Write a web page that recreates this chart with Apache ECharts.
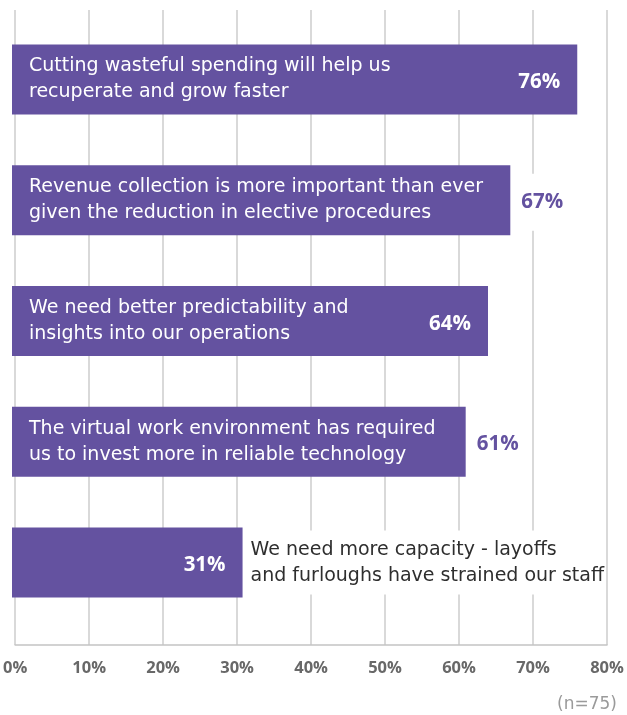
<!DOCTYPE html>
<html>
<head>
<meta charset="utf-8">
<script src="https://cdn.jsdelivr.net/npm/echarts@6/dist/echarts.min.js"></script>
<style>
  html, body { margin: 0; padding: 0; background: #fff; }
  #chart { width: 627px; height: 715px; }
</style>
</head>
<body>
<div id="chart"></div>
<script>
// Survey statements (top to bottom) and the share of respondents agreeing
const statements = [
  'Cutting wasteful spending will help us\nrecuperate and grow faster',
  'Revenue collection is more important than ever\ngiven the reduction in elective procedures',
  'We need better predictability and\ninsights into our operations',
  'The virtual work environment has required\nus to invest more in reliable technology',
  'We need more capacity - layoffs\nand furloughs have strained our staff'
];
const shares = [76, 67, 64, 61, 31];
const sampleNote = '(n=75)';
const axisMax = 80;
const axisStep = 10;

// Label placement: statement text inside the bar, value label inside the bar end
const statementInside = [true, true, true, true, false];
const valueInside = [true, false, true, false, true];

const PURPLE = '#6452a0';
const TEXT_FONT = '"DejaVu Sans", "Open Sans", sans-serif';
const NUM_FONT = '"Open Sans", Lato, sans-serif';

const chart = echarts.init(document.getElementById('chart'), null, { renderer: 'canvas' });

const statementData = shares.map((v, i) => ({
  value: v,
  label: statementInside[i]
    ? { position: 'insideLeft', distance: 17, color: '#ffffff' }
    : { position: 'right', distance: 5, color: '#2e2e2e', backgroundColor: '#ffffff', padding: [6, 0, 6, 3] }
}));

const valueData = shares.map((v, i) => ({
  value: v,
  label: valueInside[i]
    ? { position: 'insideRight', distance: 17, color: '#ffffff', offset: [0, 3] }
    : { position: 'right', distance: 5, color: PURPLE, backgroundColor: '#ffffff', padding: [18, 6], offset: [0, 2] }
}));

chart.setOption({
  animation: false,
  backgroundColor: '#ffffff',
  title: {
    text: sampleNote,
    right: 5,
    top: 691,
    textStyle: { fontFamily: TEXT_FONT, fontSize: 17, fontWeight: 'normal', color: '#9a9a9a' }
  },
  grid: [
    { left: 12, right: 20, top: 10, bottom: 70 },
    { left: 12, right: 20, top: 19, bottom: 92 }
  ],
  xAxis: [
    {
      gridIndex: 0, type: 'value', min: 0, max: axisMax, interval: axisStep,
      axisLine: { show: true, lineStyle: { color: '#c4c4c4', width: 1.5 } },
      axisTick: { show: false },
      splitLine: { show: true, lineStyle: { color: '#cccccc', width: 1.5 } },
      axisLabel: {
        formatter: '{value}%', margin: 15,
        fontFamily: NUM_FONT, fontSize: 16.5, fontWeight: 'bold', color: '#686868'
      }
    },
    {
      gridIndex: 1, type: 'value', min: 0, max: axisMax, interval: axisStep,
      show: false
    }
  ],
  yAxis: [
    { gridIndex: 0, type: 'value', show: false },
    {
      gridIndex: 1, type: 'category', inverse: true, show: false,
      data: statements
    }
  ],
  series: [
    {
      name: 'statement',
      type: 'bar',
      xAxisIndex: 1, yAxisIndex: 1,
      barWidth: 70,
      itemStyle: { color: PURPLE },
      label: {
        show: true,
        formatter: p => statements[p.dataIndex],
        fontFamily: TEXT_FONT, fontSize: 19, lineHeight: 26
      },
      data: statementData
    },
    {
      name: 'share',
      type: 'bar',
      xAxisIndex: 1, yAxisIndex: 1,
      barWidth: 70,
      barGap: '-100%',
      silent: true,
      itemStyle: { color: 'rgba(0,0,0,0)' },
      label: {
        show: true,
        formatter: '{c}%',
        fontFamily: NUM_FONT, fontSize: 20.5, fontWeight: 'bold'
      },
      data: valueData
    }
  ]
});
</script>
</body>
</html>
